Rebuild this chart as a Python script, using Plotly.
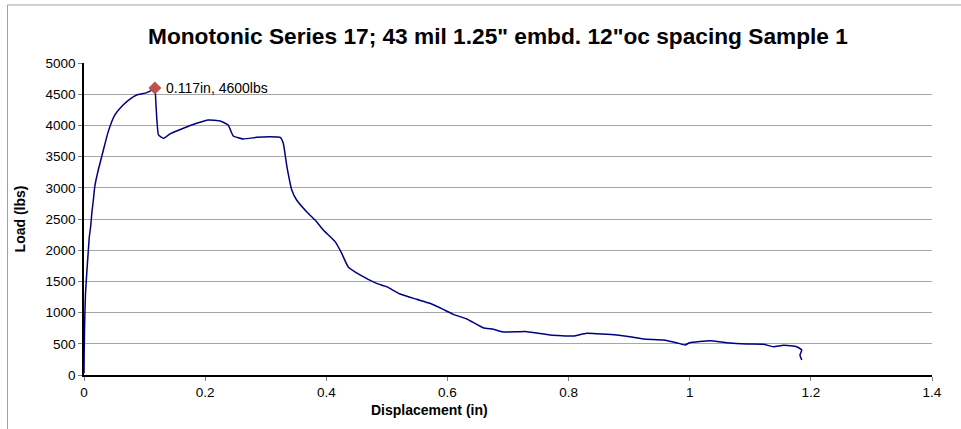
import plotly.graph_objects as go

displacement = [0, 0.0003, 0.0008, 0.0015, 0.0025, 0.005, 0.0072, 0.0088, 0.011, 0.013,
                0.0154, 0.0175, 0.0198, 0.0236, 0.032, 0.040, 0.051, 0.065, 0.077, 0.087,
                0.1035, 0.1145, 0.117, 0.119, 0.123, 0.131, 0.142, 0.164, 0.186, 0.205,
                0.2245, 0.238, 0.2465, 0.263, 0.285, 0.307, 0.324, 0.329, 0.335, 0.343,
                0.351, 0.3675, 0.384, 0.395, 0.4145, 0.4255, 0.436, 0.4557, 0.483, 0.4995,
                0.5217, 0.549, 0.571, 0.593, 0.6097, 0.632, 0.659, 0.6757, 0.692, 0.731,
                0.7695, 0.808, 0.830, 0.8795, 0.9014, 0.9234, 0.9564, 0.978, 0.9925, 1.0,
                1.0335, 1.061, 1.094, 1.1215, 1.138, 1.1545, 1.1765, 1.185, 1.182, 1.185]
load = [30, 350, 670, 1000, 1310, 1700, 2000, 2216, 2380, 2600,
        2800, 3000, 3125, 3285, 3605, 3900, 4167, 4330, 4430, 4487,
        4525, 4580, 4600, 4300, 3847, 3793, 3863, 3954, 4034, 4087,
        4071, 4007, 3830, 3782, 3809, 3820, 3809, 3713, 3339, 2965,
        2805, 2617, 2457, 2324, 2137, 1950, 1736, 1603, 1469, 1416,
        1298, 1213, 1149, 1052, 972, 898, 758, 732, 689, 695,
        641, 625, 668, 641, 614, 577, 561, 518, 481, 518,
        550, 518, 497, 492, 454, 475, 454, 400, 320, 240]

peak_x = [0.117]
peak_y = [4600]
peak_label = "0.117in, 4600lbs"

title_text = "Monotonic Series 17; 43 mil 1.25\" embd. 12\"oc spacing Sample 1"
x_title = "Displacement (in)"
y_title = "Load (lbs)"

FONT = "Liberation Sans, Arial, sans-serif"

fig = go.Figure()
fig.add_trace(go.Scatter(x=displacement, y=load, mode="lines",
                         line=dict(color="#000080", width=1.5, shape="spline", smoothing=0.4),
                         hoverinfo="x+y"))
fig.add_trace(go.Scatter(x=peak_x, y=peak_y, mode="markers",
                         marker=dict(symbol="diamond", size=10, color="#C0504D")))

fig.update_layout(
    width=961, height=429,
    margin=dict(l=84, r=29, t=63, b=54),
    paper_bgcolor="white", plot_bgcolor="white",
    showlegend=False,
    font=dict(family=FONT, size=13.5, color="black"),
    xaxis=dict(range=[0, 1.4], dtick=0.2, showgrid=False, zeroline=False,
               showline=True, linecolor="black", linewidth=1.5,
               ticks="outside", ticklen=4, tickcolor="#808080",
               tickfont=dict(size=13.5, family=FONT)),
    yaxis=dict(range=[0, 5000], dtick=500, showgrid=True, gridcolor="#a6a6a6", gridwidth=1,
               zeroline=False, showline=True, linecolor="black", linewidth=1.5,
               ticks="outside", ticklen=4, tickcolor="#808080",
               tickfont=dict(size=13.5, family=FONT)),
    annotations=[
        dict(x=peak_x[0], y=peak_y[0], xref="x", yref="y", text=peak_label,
             showarrow=False, xanchor="left", yanchor="middle", xshift=9,
             font=dict(size=14, family=FONT)),
        dict(x=0.488, y=1.087, xref="paper", yref="paper", text="<b>" + title_text + "</b>",
             showarrow=False, xanchor="center", yanchor="middle",
             font=dict(size=22.7, family=FONT)),
        dict(x=0.408, y=-0.112, xref="paper", yref="paper", text="<b>" + x_title + "</b>",
             showarrow=False, xanchor="center", yanchor="middle",
             font=dict(size=14, family=FONT)),
        dict(x=-0.075, y=0.5, xref="paper", yref="paper", text="<b>" + y_title + "</b>",
             showarrow=False, xanchor="center", yanchor="middle", textangle=-90,
             font=dict(size=14, family=FONT)),
    ],
    shapes=[
        dict(type="rect", xref="paper", yref="paper", x0=-0.0902, y0=-0.4, x1=1.2, y1=1.186,
             line=dict(color="#a0a0a0", width=1), layer="below"),
    ],
)

fig.write_html("out.html", config={"displayModeBar": False},
               post_script="document.body.style.margin='0';document.body.style.overflow='hidden';")
